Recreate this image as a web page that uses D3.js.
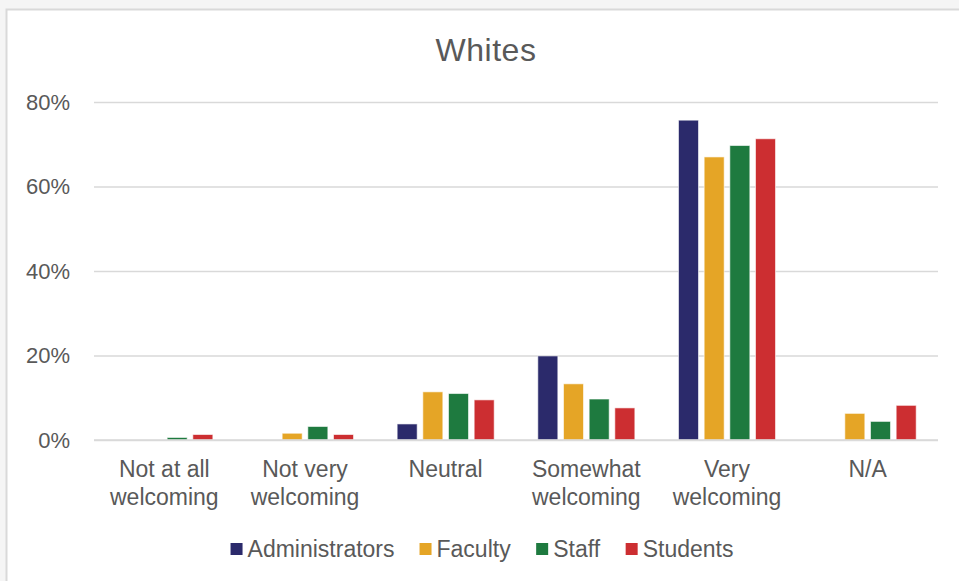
<!DOCTYPE html>
<html>
<head>
<meta charset="utf-8">
<script src="https://cdn.jsdelivr.net/npm/d3@7"></script>
<style>
  body { margin: 0; background: #f5f5f5; }
  svg { display: block; font-family: "Liberation Sans", Arial, sans-serif; }
</style>
</head>
<body>
<div id="chart"></div>
<script>
// data
var categories = [["Not at all", "welcoming"], ["Not very", "welcoming"], ["Neutral"],
                  ["Somewhat", "welcoming"], ["Very", "welcoming"], ["N/A"]];
var seriesNames = ["Administrators", "Faculty", "Staff", "Students"];
var administrators = [0, 0, 3.8, 19.9, 75.7, 0];
var faculty = [0, 1.6, 11.4, 13.3, 67.0, 6.3];
var staff = [0.6, 3.2, 11.0, 9.7, 69.7, 4.4];
var students = [1.3, 1.3, 9.5, 7.6, 71.3, 8.2];
var yTicks = [0, 20, 40, 60, 80];
var colors = ["#2b2a6b", "#e5a526", "#1e7a3f", "#cc2e31"];

var seriesValues = [administrators, faculty, staff, students];
var catKeys = categories.map(function (c) { return c.join(" "); });

var width = 959, height = 581;
var margin = { left: 94, right: 21, top: 102, bottom: 141 };
var innerW = width - margin.left - margin.right;
var innerH = height - margin.top - margin.bottom;

var svg = d3.select("#chart").append("svg")
  .attr("width", width).attr("height", height);

// chart area with the light border
svg.append("rect")
  .attr("x", 6.5).attr("y", 9.5)
  .attr("width", width + 10).attr("height", height + 10)
  .attr("fill", "#fff").attr("stroke", "#d9d9d9").attr("stroke-width", 2);

svg.append("text")
  .attr("x", 486).attr("y", 61)
  .attr("text-anchor", "middle")
  .attr("fill", "#595959")
  .style("font-size", "32px")
  .style("letter-spacing", "0.5px")
  .text("Whites");

var x0 = d3.scaleBand().domain(catKeys).range([0, innerW])
  .paddingInner(0.27).paddingOuter(0.135);
var x1 = d3.scaleBand().domain(seriesNames).range([0, x0.bandwidth()])
  .paddingInner(0.22).paddingOuter(0.11);
var y = d3.scaleLinear().domain([0, 80]).range([innerH, 0]);

var g = svg.append("g")
  .attr("transform", "translate(" + margin.left + "," + margin.top + ")");

// gridlines
g.append("g")
  .call(d3.axisLeft(y).tickValues(yTicks).tickSize(-innerW).tickFormat(""))
  .call(function (a) { a.select(".domain").remove(); })
  .selectAll("line")
  .attr("stroke", "#d9d9d9").attr("stroke-width", 1.5);

// y tick labels
g.append("g")
  .attr("transform", "translate(-21,0)")
  .call(d3.axisLeft(y).tickValues(yTicks).tickSize(0).tickFormat(function (d) { return d + "%"; }))
  .call(function (a) { a.select(".domain").remove(); })
  .selectAll("text")
  .attr("fill", "#595959")
  .style("font-size", "22px")
  .style("font-family", "Liberation Sans, Arial, sans-serif");

// bars
var groups = g.selectAll("g.cat")
  .data(catKeys)
  .enter().append("g")
  .attr("class", "cat")
  .attr("transform", function (d) { return "translate(" + x0(d) + ",0)"; });

groups.selectAll("rect")
  .data(function (d, i) {
    return seriesNames.map(function (s, k) { return { name: s, value: seriesValues[k][i], k: k }; })
      .filter(function (e) { return e.value > 0; });
  })
  .enter().append("rect")
  .attr("x", function (d) { return x1(d.name); })
  .attr("y", function (d) { return y(d.value); })
  .attr("width", x1.bandwidth())
  .attr("height", function (d) { return innerH - y(d.value); })
  .attr("fill", function (d) { return colors[d.k]; })
  .attr("stroke", "#fff").attr("stroke-opacity", 0.6).attr("stroke-width", 1);

// x axis line
g.append("line")
  .attr("x1", 0).attr("x2", innerW)
  .attr("y1", innerH).attr("y2", innerH)
  .attr("stroke", "#d9d9d9").attr("stroke-width", 1.5);

// category labels
var catLabels = g.selectAll("text.cat")
  .data(categories)
  .enter().append("text")
  .attr("class", "cat")
  .attr("text-anchor", "middle")
  .attr("fill", "#595959")
  .style("font-size", "23px")
  .attr("x", function (d, i) { return x0(catKeys[i]) + x0.bandwidth() / 2; })
  .attr("y", innerH + 37);
catLabels.selectAll("tspan")
  .data(function (d) { return d; })
  .enter().append("tspan")
  .attr("x", function () { return d3.select(this.parentNode).attr("x"); })
  .attr("dy", function (d, i) { return i === 0 ? 0 : 28; })
  .text(function (d) { return d; });

// legend
var legend = svg.append("g").attr("transform", "translate(0,549)");
var items = legend.selectAll("g")
  .data(seriesNames)
  .enter().append("g");
items.append("rect")
  .attr("y", -6).attr("width", 12).attr("height", 12)
  .attr("fill", function (d, i) { return colors[i]; });
items.append("text")
  .attr("x", 17).attr("dy", "0.35em")
  .attr("fill", "#595959")
  .style("font-size", "23px")
  .text(function (d) { return d; });
var widths = [];
items.each(function () { widths.push(this.getBBox().width); });
var gap = 25;
var total = d3.sum(widths) + gap * (widths.length - 1);
var cx = 482 - total / 2;
items.attr("transform", function (d, i) {
  var pos = cx;
  cx += widths[i] + gap;
  return "translate(" + pos + ",0)";
});
</script>
</body>
</html>
